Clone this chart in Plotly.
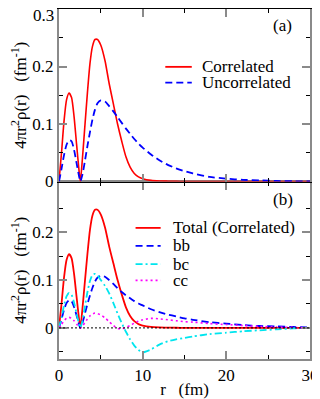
import plotly.graph_objects as go

# radial grid (fm)
r = [0, 0.3, 0.6, 0.9, 1.2, 1.5, 1.8, 2.1, 2.4, 2.55, 2.8, 3.1, 3.4, 3.7, 4.0, 4.3, 4.6, 5.0,
     5.5, 6.0, 6.5, 7.0, 7.5, 8.0, 8.5, 9.0, 9.5, 10, 11, 12, 13, 14, 15, 16, 18, 20, 22, 24,
     26, 28, 30]

correlated = [0, 0.05, 0.105, 0.142, 0.154, 0.146, 0.113, 0.065, 0.018, 0, 0.04, 0.098, 0.155,
              0.205, 0.235, 0.247, 0.247, 0.237, 0.21, 0.17, 0.135, 0.1, 0.07, 0.043, 0.025,
              0.014, 0.008, 0.005, 0.002, 0.001, 0.0006, 0.0003, 0, 0, 0, 0, 0, 0, 0, 0, 0]

uncorrelated = [0, 0.022, 0.046, 0.064, 0.072, 0.07, 0.055, 0.032, 0.009, 0, 0.012, 0.036, 0.062,
                0.086, 0.108, 0.125, 0.136, 0.141, 0.139, 0.131, 0.122, 0.112, 0.102, 0.092,
                0.083, 0.074, 0.066, 0.059, 0.047, 0.037, 0.029, 0.023, 0.018, 0.014, 0.008,
                0.005, 0.003, 0.002, 0.001, 0.0005, 0.0002]

bb = [0, 0.018, 0.038, 0.052, 0.058, 0.056, 0.044, 0.026, 0.007, 0, 0.01, 0.03, 0.05, 0.068,
      0.084, 0.097, 0.105, 0.109, 0.107, 0.1, 0.092, 0.083, 0.075, 0.068, 0.062, 0.056, 0.051,
      0.047, 0.039, 0.033, 0.028, 0.024, 0.02, 0.017, 0.012, 0.009, 0.006, 0.004, 0.003, 0.002,
      0.001]

bc = [0, 0.022, 0.047, 0.066, 0.073, 0.069, 0.053, 0.03, 0.008, 0, 0.015, 0.045, 0.075, 0.098,
      0.111, 0.113, 0.11, 0.1, 0.088, 0.072, 0.052, 0.03, 0.01, -0.008, -0.024, -0.037, -0.046,
      -0.051, -0.045, -0.035, -0.028, -0.024, -0.021, -0.018, -0.013, -0.01, -0.007, -0.005,
      -0.003, -0.001, 0]

cc = [0, 0.007, 0.015, 0.02, 0.022, 0.02, 0.015, 0.008, 0.002, 0, 0.004, 0.011, 0.019, 0.025,
      0.029, 0.031, 0.03, 0.027, 0.021, 0.013, 0.005, -0.001, -0.002, 0.001, 0.005, 0.01, 0.014,
      0.017, 0.02, 0.019, 0.017, 0.015, 0.013, 0.012, 0.009, 0.007, 0.005, 0.003, 0.002, 0.001, 0]

x_ticks = [0, 10, 20, 30]
x_minor = [5, 15, 25]
ya_ticks = [0, 0.1, 0.2, 0.3]
ya_labels = ["0", "0.1", "0.2", ""]   # top label drawn separately so it stays on the page
ya_minor = [0.05, 0.15, 0.25]
yb_ticks = [0, 0.1, 0.2]
yb_labels = ["0", "0.1", "0.2"]
yb_minor = [-0.05, 0.05, 0.15, 0.25]

legend_a = [("Correlated", "#ff0000", "solid"), ("Uncorrelated", "#0000ff", "7px,4px")]
legend_b = [("Total (Correlated)", "#ff0000", "solid"), ("bb", "#0000ff", "7px,4px"),
            ("bc", "#00e5ee", "7px,3px,2px,3px"), ("cc", "#ff00ff", "2px,3px")]

FAM = "Liberation Serif"
GRAY = "#8a8a8a"
F17 = dict(family=FAM, size=17, color="black")

fig = go.Figure()

# panel (b) on x/y, panel (a) on x2/y2
fig.add_trace(go.Scatter(x=r, y=correlated, xaxis="x2", yaxis="y2", mode="lines",
                         line=dict(color="#ff0000", width=1.6, shape="spline", smoothing=0.6)))
fig.add_trace(go.Scatter(x=r, y=uncorrelated, xaxis="x2", yaxis="y2", mode="lines",
                         line=dict(color="#0000ff", width=1.8, dash="7px,4px", shape="spline",
                                   smoothing=0.6)))

for vals, (name, col, dash) in zip([correlated, bb, bc, cc], legend_b):
    fig.add_trace(go.Scatter(x=r, y=vals, mode="lines",
                             line=dict(color=col, width=1.8 if name != "cc" else 1.6, dash=dash,
                                       shape="spline", smoothing=0.6)))

# dotted zero line in panel (b)
fig.add_shape(type="line", xref="x domain", yref="y", x0=0, x1=1, y0=0, y1=0,
              line=dict(color="black", width=1, dash="2px,2px"))

# hand-drawn legends (paper coords)
rows_a = [0.8347, 0.7896]
for (name, col, dash), yy in zip(legend_a, rows_a):
    fig.add_shape(type="line", xref="paper", yref="paper", x0=0.4235, x1=0.529, y0=yy, y1=yy,
                  line=dict(color=col, width=1.8, dash=dash))
    fig.add_annotation(x=0.563, y=yy, xref="paper", yref="paper", text=name, showarrow=False,
                       xanchor="left", yanchor="middle", font=F17)
rows_b = [0.3746, 0.3231, 0.2713, 0.2245]
for (name, col, dash), yy in zip(legend_b, rows_b):
    fig.add_shape(type="line", xref="paper", yref="paper", x0=0.305, x1=0.405, y0=yy, y1=yy,
                  line=dict(color=col, width=1.8, dash=dash))
    fig.add_annotation(x=0.446, y=yy, xref="paper", yref="paper", text=name, showarrow=False,
                       xanchor="left", yanchor="middle", font=F17)

fig.add_annotation(x=0.889, y=0.952, xref="paper", yref="paper", text="(a)", showarrow=False,
                   xanchor="center", yanchor="middle", font=F17)
fig.add_annotation(x=0.894, y=0.4563, xref="paper", yref="paper", text="(b)", showarrow=False,
                   xanchor="center", yanchor="middle", font=F17)
# "0.3" tick label, nudged down a little so it is not clipped
fig.add_annotation(x=0, y=ya_ticks[-1], xref="x2 domain", yref="y2", text="0.3",
                   showarrow=False, xanchor="right", yanchor="middle", xshift=-3, yshift=-6,
                   font=F17)

ytitle = "4πr<sup>2</sup>ρ(r)   (fm<sup>-1</sup>)"

xcommon = dict(range=[0, 30], tickvals=x_ticks, ticks="inside", ticklen=8, tickwidth=2,
               tickcolor=GRAY, showgrid=False, zeroline=False, showline=True, mirror="allticks",
               tickfont=F17,
               minor=dict(tickvals=x_minor, ticks="inside", ticklen=4, tickcolor="black",
                          tickwidth=1))
ycommon = dict(ticks="inside", ticklen=8, tickwidth=2, tickcolor=GRAY, showgrid=False,
               zeroline=False, showline=True, mirror="allticks", linecolor=GRAY, linewidth=2,
               tickfont=F17,
               title=dict(text=ytitle, font=F17, standoff=12))

# page body adds an 8px offset, so the figure is 8px smaller each way
dom_split = 180 / 355

fig.update_layout(
    width=312, height=391,
    margin=dict(l=47, r=10, t=0, b=36),
    paper_bgcolor="white", plot_bgcolor="white",
    font=F17,
    showlegend=False,
    xaxis=dict(xcommon, domain=[0, 1], anchor="y", linecolor=GRAY, linewidth=2,
               title=dict(text="r   (fm)", font=F17, standoff=2)),
    yaxis=dict(ycommon, domain=[0, dom_split], anchor="x", range=[-0.065, 0.306],
               tickvals=yb_ticks, ticktext=yb_labels,
               minor=dict(tickvals=yb_minor, ticks="inside", ticklen=4, tickcolor="black",
                          tickwidth=1)),
    xaxis2=dict(xcommon, domain=[0, 1], anchor="y2", linecolor="black", linewidth=1,
                showticklabels=False),
    yaxis2=dict(ycommon, domain=[dom_split, 1], anchor="x2", range=[0, 0.3],
                tickvals=ya_ticks, ticktext=ya_labels,
                minor=dict(tickvals=ya_minor, ticks="inside", ticklen=4, tickcolor="black",
                           tickwidth=1)),
)

fig.write_html("out.html")
